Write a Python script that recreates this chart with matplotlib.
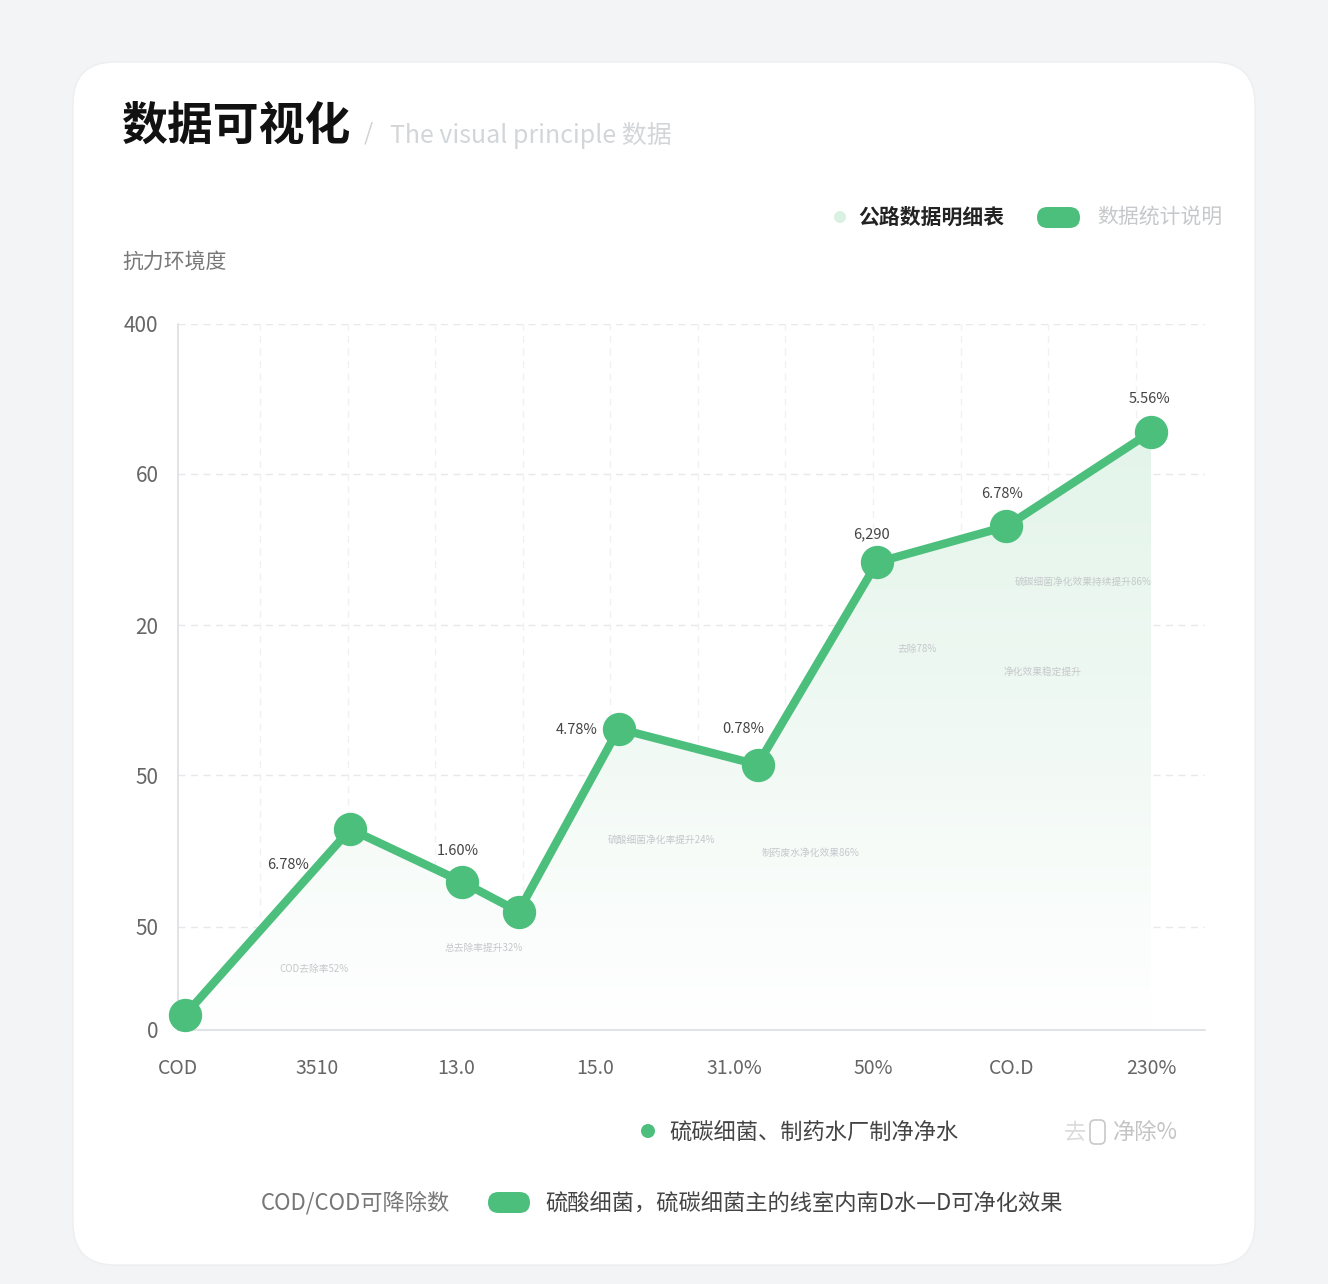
import numpy as np
import matplotlib.pyplot as plt
from matplotlib.patches import FancyBboxPatch, Circle, Polygon
from matplotlib.colors import LinearSegmentedColormap

plt.rcParams['font.family'] = ['Noto Sans CJK SC', 'DejaVu Sans']

# ---- data ----
categories = ['COD', '3510', '13.0', '15.0', '31.0%', '50%', 'CO.D', '230%']
x_pos = [0.05, 1.24, 2.04, 2.45, 3.17, 4.17, 5.03, 5.96, 7.0]
y_val = [10, 134, 99, 79, 201, 177, 312, 336, 399]
point_labels = ['', '6.78%', '1.60%', '', '4.78%', '0.78%', '6,290', '6.78%', '5.56%']
label_offsets = [(0, 0), (-45, -26), (-3, 22), (0, 0), (-30, -1), (-10, 26), (-4, 20), (-3, 23), (-1, 24)]
y_ticks = [0, 69, 170, 270, 371, 471]
y_ticklabels = ['0', '50', '50', '20', '60', '400']
faint_notes = [(0.98, 41, 'COD去除率52%'), (2.2, 55, '总去除率提升32%'),
               (3.48, 127, '硫酸细菌净化率提升24%'), (4.55, 118, '制药废水净化效果86%'),
               (5.32, 254, '去除78%'), (6.22, 239, '净化效果稳定提升'),
               (6.51, 299, '硫碳细菌净化效果持续提升86%')]

green = '#4dbf7d'
W, H = 1328, 1284
fig = plt.figure(figsize=(W / 100, H / 100), dpi=100)
fig.patch.set_facecolor('#f3f4f6')

# background card, pixel coords
bg = fig.add_axes([0, 0, 1, 1], zorder=0)
bg.set_xlim(0, W)
bg.set_ylim(H, 0)
bg.axis('off')
bg.add_patch(FancyBboxPatch((73, 62), 1182, 1203, boxstyle='round,pad=0,rounding_size=42',
                            fc='white', ec='#eceef1', lw=1))

# title
bg.text(122, 127, '数据可视化', fontsize=33, fontweight='bold', color='#111111', va='center')
bg.text(364, 133, '/', fontsize=17, color='#cfd2d6', va='center')
bg.text(390, 135, 'The visual principle 数据', fontsize=18, color='#d3d6d9', va='center')

# top legend
bg.add_patch(Circle((840, 217), 6, fc='#d9f1e3', ec='none'))
bg.text(858, 217, '公路数据明细表', fontsize=15, color='#222222', va='center', fontweight='bold')
bg.add_patch(FancyBboxPatch((1037, 207), 43, 21, boxstyle='round,pad=0,rounding_size=10.5',
                            fc=green, ec='none'))
bg.text(1097, 217, '数据统计说明', fontsize=15, color='#c6c9cc', va='center')

# y axis title
bg.text(122, 263, '抗力环境度', fontsize=15, color='#777777', va='center')

# bottom legend row 1
bg.add_patch(Circle((648, 1131), 7, fc=green, ec='none'))
bg.text(669, 1132, '硫碳细菌、制药水厂制净净水', fontsize=16, color='#444444', va='center')
bg.text(1064, 1132, '去', fontsize=16, color='#dcdcdc', va='center')
bg.add_patch(FancyBboxPatch((1090, 1120), 15, 24, boxstyle='round,pad=0,rounding_size=5',
                            fc='none', ec='#c8c8c8', lw=1.2))
bg.text(1113, 1132, '净除%', fontsize=16, color='#c4c4c4', va='center')

# bottom legend row 2
bg.text(261, 1203, 'COD/COD可降除数', fontsize=16, color='#777777', va='center')
bg.add_patch(FancyBboxPatch((488, 1192), 42, 21, boxstyle='round,pad=0,rounding_size=10.5',
                            fc=green, ec='none'))
bg.text(545, 1203, '硫酸细菌，硫碳细菌主的线室内南D水—D可净化效果', fontsize=16,
        color='#444444', va='center')

# main chart
ax = fig.add_axes([178 / W, 1 - 1030 / H, (1205 - 178) / W, (1030 - 324) / H], zorder=2)
ax.patch.set_alpha(0)
xmax = (1205 - 178) / 139
ax.set_xlim(0, xmax)
ax.set_ylim(0, 471)

for yt in y_ticks[1:]:
    ax.axhline(yt, color='#e6e8eb', lw=1, ls=(0, (5, 4)), zorder=0)
for gx in np.arange(0.59, xmax, 0.63):
    ax.axvline(gx, color='#f0f1f3', lw=1, ls=(0, (5, 4)), zorder=0)

# gradient area fill
grad = np.linspace(0, 1, 256).reshape(-1, 1)
cmap = LinearSegmentedColormap.from_list('g', ['#ffffff', '#eef8f2', '#def3e6'])
im = ax.imshow(grad, cmap=cmap, aspect='auto', origin='lower',
               extent=[0, xmax, 0, 471], zorder=1)
poly = Polygon(list(zip(x_pos, y_val)) + [(x_pos[-1], 0), (x_pos[0], 0)],
               closed=True, fc='none', ec='none', transform=ax.transData)
ax.add_patch(poly)
im.set_clip_path(poly)

ax.plot(x_pos, y_val, color=green, lw=6, solid_joinstyle='round', zorder=3, clip_on=False)
ax.plot(x_pos, y_val, 'o', color=green, ms=23, zorder=4, clip_on=False)

for x, y, lab, off in zip(x_pos, y_val, point_labels, label_offsets):
    if lab:
        ax.annotate(lab, (x, y), xytext=off, textcoords='offset points',
                    ha='center', va='center', fontsize=10.5, color='#444444', zorder=5)

for x, y, t in faint_notes:
    ax.text(x, y, t, fontsize=7, color='#c5c8cb', ha='center', va='center', zorder=2)

ax.set_yticks(y_ticks)
ax.set_yticklabels(y_ticklabels)
ax.set_xticks(range(len(categories)))
ax.set_xticklabels(categories)
ax.tick_params(axis='y', length=0, pad=14, labelsize=15, labelcolor='#666666')
ax.tick_params(axis='x', length=0, pad=20, labelsize=14, labelcolor='#666666')
for s in ['top', 'right']:
    ax.spines[s].set_visible(False)
for s in ['left', 'bottom']:
    ax.spines[s].set_color('#dcdfe3')
    ax.spines[s].set_linewidth(1.2)

fig.savefig('out.png', dpi=100, facecolor=fig.get_facecolor())
